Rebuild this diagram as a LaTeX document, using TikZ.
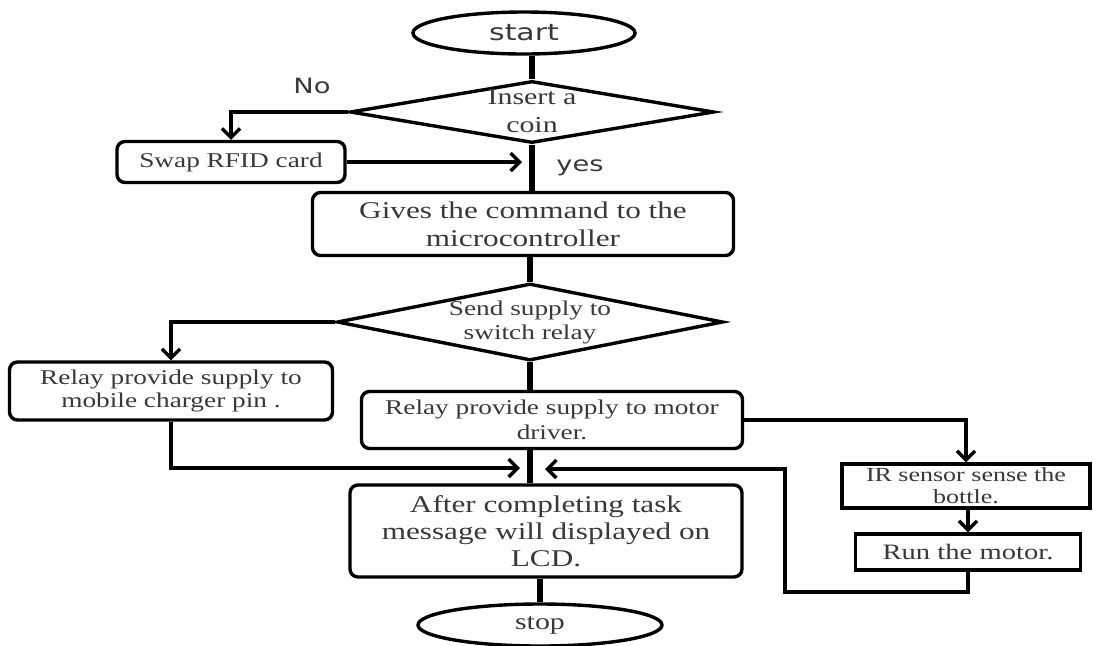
\documentclass[tikz,border=0pt]{standalone}
\usepackage{fontspec}
\setmainfont{Liberation Serif}[FakeStretch=1.3]
\newfontfamily\labelfont{DejaVu Sans}[FakeStretch=1.3]
\usetikzlibrary{shapes.geometric}
\usetikzlibrary{arrows.meta}
\tikzset{
    box/.style={draw, rectangle, rounded corners=4pt, align=center, inner sep=0pt},
    plainbox/.style={draw, rectangle, align=center, inner sep=0pt},
    terminal/.style={draw, ellipse, inner sep=0pt},
    decision/.style={draw, diamond, inner sep=0pt},
    trunk/.style={line width=2.6pt},
}
\newcommand{\fsize}[2]{\fontsize{#1}{#2}\selectfont}
\newcommand{\dtext}[1]{\makebox[0pt]{\smash{\raisebox{-0.3em}{\begin{tabular}{@{}c@{}}#1\end{tabular}}}}}

\begin{document}
\begin{tikzpicture}[x=0.5pt, y=-0.5pt, line width=1.7pt, text=black!78,
        >={Straight Barb[length=4.5pt,width=9pt]}]
        \useasboundingbox (0,0) rectangle (1093,645);

        \node[terminal, minimum width=111pt, minimum height=21pt, font=\labelfont\fsize{11.5}{13}] (start) at (524,33) {start};
        \node[decision, minimum width=182pt, minimum height=31pt, font=\fsize{11.5}{14}] (coin) at (532,112) {\dtext{Insert a\\coin}};
        \node[font=\labelfont\fsize{10.5}{12}] (no) at (312,86) {No};

        \node[box, minimum width=114pt, minimum height=20.5pt, font=\fsize{10.5}{12.5}] (swap) at (231,162) {Swap RFID card};
        \node[font=\labelfont\fsize{10.5}{12}] (yes) at (580,168) {yes};

        \node[box, minimum width=210.5pt, minimum height=31.5pt, font=\fsize{12}{14}] (cmd) at (523,224) {Gives the command to the\\microcontroller};
        \node[decision, minimum width=193pt, minimum height=38.5pt, font=\fsize{10.5}{12}] (relay) at (530,322) {\dtext{Send supply to\\switch relay}};

        \node[box, minimum width=161.5pt, minimum height=29pt, font=\fsize{10.5}{11.5}] (charger) at (171,391) {Relay provide supply to\\mobile charger pin .};
        \node[box, minimum width=190.5pt, minimum height=28.5pt, font=\fsize{10.5}{12.5}] (driver) at (552,420) {Relay provide supply to motor\\driver.};

        \node[plainbox, minimum width=124pt, minimum height=22pt, font=\fsize{10}{11}] (ir) at (966,486) {IR sensor sense the\\bottle.};
        \node[plainbox, minimum width=112.5pt, minimum height=18pt, font=\fsize{11}{13}] (run) at (968,552) {Run the motor.};

        \node[box, minimum width=196pt, minimum height=46pt, font=\fsize{12}{13.5}] (lcd) at (546,531) {After completing task\\message will displayed on\\LCD.};
        \node[terminal, minimum width=122pt, minimum height=21pt, font=\fsize{11.5}{13}] (stop) at (540,625) {stop};

        \coordinate (j1) at (522,162);
        \coordinate (j2) at (520,468);
        \coordinate (j3) at (545,469);
        \coordinate (back) at (785,592);

        \begin{scope}[trunk]
            \draw (coin.north |- start.south) -- (coin.north);
            \draw (coin.south) -- (coin.south |- cmd.north);
            \draw (relay.north |- cmd.south) -- (relay.north);
            \draw (relay.south) -- (relay.south |- driver.north);
            \draw (relay.south |- driver.south) -- (relay.south |- lcd.north);
            \draw (stop.north |- lcd.south) -- (stop.north);
        \end{scope}

        \draw[->] (coin.west) -| (swap.north);
        \draw[->] (swap.east) -- (j1);
        \draw[->] (relay.west) -| (charger.north);
        \draw[->] (charger.south) |- (j2);
        \draw[->] (driver.east) -| (ir.north);
        \draw[->] (ir.south -| run.north) -- (run.north);
        \draw[->] (run.south) |- (back) |- (j3);
    \end{tikzpicture}
\end{document}
